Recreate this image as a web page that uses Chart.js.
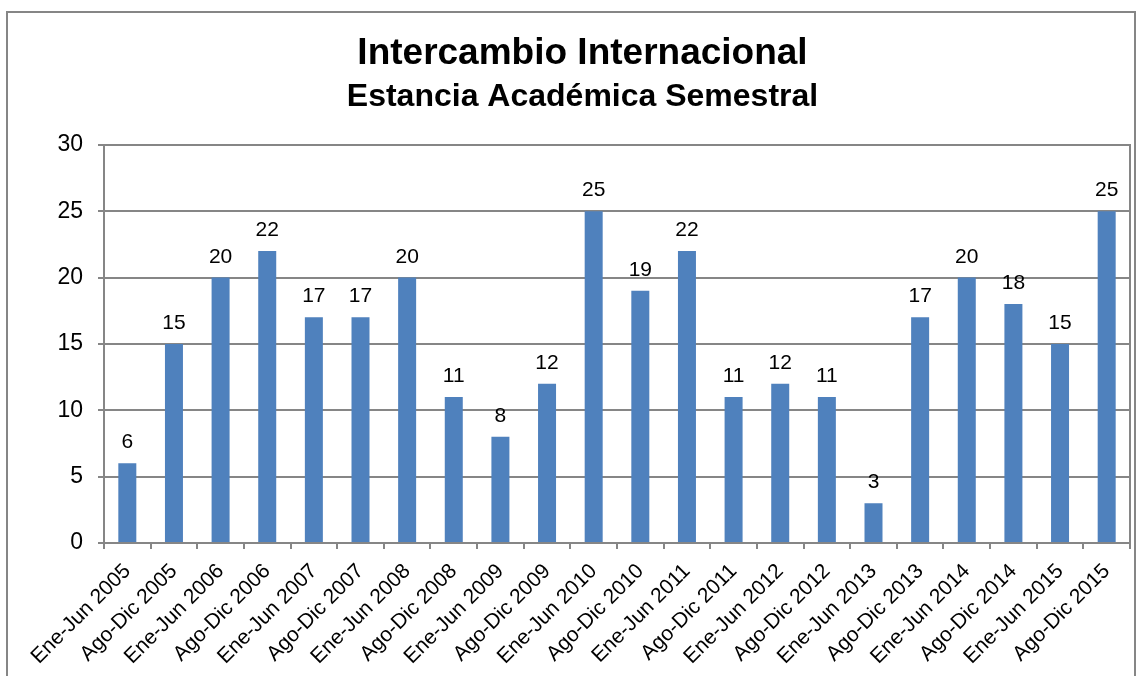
<!DOCTYPE html>
<html>
<head>
<meta charset="utf-8">
<script src="https://cdn.jsdelivr.net/npm/chart.js@4"></script>
<style>
  body { margin: 0; background: #fff; }
  #wrap { position: relative; width: 1144px; height: 676px; overflow: hidden; }
  #frame { position: absolute; left: 6px; top: 11px; width: 1130px; height: 700px;
           border: 2px solid #868686; box-sizing: border-box; pointer-events: none; }
</style>
</head>
<body>
<div id="wrap">
  <canvas id="myChart" width="1144" height="676"></canvas>
  <div id="frame"></div>
</div>
<script>
var periodos = [
  'Ene-Jun 2005', 'Ago-Dic 2005', 'Ene-Jun 2006', 'Ago-Dic 2006',
  'Ene-Jun 2007', 'Ago-Dic 2007', 'Ene-Jun 2008', 'Ago-Dic 2008',
  'Ene-Jun 2009', 'Ago-Dic 2009', 'Ene-Jun 2010', 'Ago-Dic 2010',
  'Ene-Jun 2011', 'Ago-Dic 2011', 'Ene-Jun 2012', 'Ago-Dic 2012',
  'Ene-Jun 2013', 'Ago-Dic 2013', 'Ene-Jun 2014', 'Ago-Dic 2014',
  'Ene-Jun 2015', 'Ago-Dic 2015'
];
var estancias = [6, 15, 20, 22, 17, 17, 20, 11, 8, 12, 25, 19, 22, 11, 12, 11, 3, 17, 20, 18, 15, 25];

var FONT = "'Liberation Sans', Arial, sans-serif";
var GRIS = '#868686';

// numbers on top of every bar
var etiquetas = {
  id: 'etiquetas',
  afterDatasetsDraw: function(chart) {
    var ctx = chart.ctx;
    var meta = chart.getDatasetMeta(0);
    ctx.save();
    ctx.font = '21px ' + FONT;
    ctx.fillStyle = '#000';
    ctx.textAlign = 'center';
    ctx.textBaseline = 'alphabetic';
    meta.data.forEach(function(bar, i) {
      ctx.fillText(chart.data.datasets[0].data[i], bar.x, bar.y - 15);
    });
    ctx.restore();
  }
};

var ctx = document.getElementById('myChart').getContext('2d');
var myChart = new Chart(ctx, {
  type: 'bar',
  data: {
    labels: periodos,
    datasets: [{
      data: estancias,
      backgroundColor: '#4F81BD',
      borderWidth: 0,
      barPercentage: 0.386,
      categoryPercentage: 1
    }]
  },
  options: {
    responsive: false,
    animation: false,
    layout: { padding: { left: 21, right: 0, top: 0, bottom: 0 } },
    plugins: {
      legend: { display: false },
      tooltip: { enabled: false },
      title: {
        display: true,
        text: 'Intercambio Internacional',
        color: '#000',
        font: { family: FONT, size: 37, weight: 'bold' },
        padding: { top: 32, bottom: 0 }
      },
      subtitle: {
        display: true,
        text: 'Estancia Académica Semestral',
        color: '#000',
        font: { family: FONT, size: 32, weight: 'bold' },
        padding: { top: 2, bottom: 28 }
      }
    },
    scales: {
      x: {
        grid: { display: true, offset: true, drawOnChartArea: false, drawTicks: true,
                tickLength: 6, color: GRIS, lineWidth: 2 },
        border: { display: true, color: GRIS, width: 2 },
        ticks: { color: '#000', font: { family: FONT, size: 21 },
                 minRotation: 45, maxRotation: 45, autoSkip: false, padding: 10 },
        afterFit: function(s) { s.height = 133; }
      },
      y: {
        min: 0,
        max: 30,
        ticks: { stepSize: 5, color: '#000', font: { family: FONT, size: 23 }, padding: 15 },
        grid: { color: GRIS, lineWidth: 2, tickLength: 6 },
        border: { display: true, color: GRIS, width: 2 },
        afterFit: function(s) { s.width = 83; }
      },
      y2: {
        position: 'right',
        min: 0,
        max: 30,
        ticks: { display: false },
        grid: { drawOnChartArea: false, drawTicks: false },
        border: { display: true, color: GRIS, width: 2 },
        afterFit: function(s) { s.width = 14; }
      }
    }
  },
  plugins: [etiquetas]
});
</script>
</body>
</html>
